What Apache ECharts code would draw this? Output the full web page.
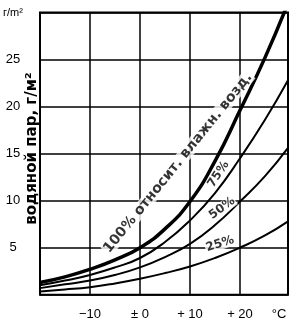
<!DOCTYPE html>
<html>
<head>
<meta charset="utf-8">
<script src="https://cdn.jsdelivr.net/npm/echarts@6/dist/echarts.min.js"></script>
<style>
  html, body { margin: 0; padding: 0; background: #fff; }
  #main { width: 300px; height: 324px; }
</style>
</head>
<body>
<div id="main"></div>
<script>
// температура, °C
var temps = [-20, -15, -10, -5, 0, 5, 10, 15, 20, 25, 29.6];
// водяной пар при разной относительной влажности
var rh100 = [1.3, 1.9, 2.7, 3.7, 5.0, 7.0, 9.9, 14.2, 19.6, 25.2, 31.0];
var rh75 = [1.0, 1.5, 2.1, 2.9, 3.9, 5.6, 7.9, 10.8, 14.5, 18.6, 22.8];
var rh50 = [0.7, 1.1, 1.5, 2.1, 2.9, 4.0, 5.4, 7.4, 9.9, 12.6, 15.6];
var rh25 = [0.35, 0.55, 0.8, 1.2, 1.7, 2.3, 3.0, 3.9, 5.0, 6.3, 7.8];

var xTickValues = [-20, -10, 0, 10, 20, 29.6];
var xTickLabels = ['', '\u221210', '\u00b1 0', '+ 10', '+ 20', '{u|\u00b0C}'];
var yTickValues = [0, 5, 10, 15, 20, 25, 30];
var yTickLabels = ['', '5', '10', '15', '20', '25', '{u|г/m²}'];

var curveNames = ['100% относит. влажн. возд.', '75%', '50%', '25%'];

var font = 'Liberation Sans';
var boldFont = 'DejaVu Sans';

function pairs(ys) {
    var out = [];
    for (var i = 0; i < temps.length; i++) {
        out.push([temps[i], ys[i]]);
    }
    return out;
}

function tickText(values, labels) {
    return function (v) {
        for (var i = 0; i < values.length; i++) {
            if (Math.abs(values[i] - v) < 0.01) {
                return labels[i];
            }
        }
        return '';
    };
}

function curve(ys, width) {
    return {
        type: 'line',
        data: pairs(ys),
        smooth: 0.5,
        symbol: 'none',
        clip: true,
        lineStyle: { color: '#000', width: width },
        z: 3
    };
}

// подпись вдоль кривой, bg - закрывать ли линии сетки под текстом
function curveLabel(text, x, y, rot, size, bg) {
    return {
        type: 'scatter',
        symbolSize: 0,
        data: [[x, y]],
        z: 5,
        silent: true,
        label: {
            show: true,
            position: 'inside',
            formatter: text,
            rotate: rot,
            color: '#000',
            fontFamily: boldFont,
            fontWeight: 'bold',
            fontSize: size,
            backgroundColor: bg ? '#fff' : 'transparent',
            padding: [0, 1]
        }
    };
}

var myChart = echarts.init(document.getElementById('main'), null, { renderer: 'canvas' });

var option = {
    animation: false,
    backgroundColor: '#fff',
    grid: {
        left: 40,
        right: 12,
        top: 12.5,
        bottom: 29.3,
        show: true,
        borderColor: '#000',
        borderWidth: 2
    },
    xAxis: {
        type: 'value',
        min: -20,
        max: 29.6,
        interval: 10,
        axisLine: { show: false },
        axisTick: { show: false },
        splitLine: { show: true, lineStyle: { color: '#000', width: 1.5 } },
        axisLabel: {
            margin: 13,
            color: '#000',
            fontFamily: font,
            fontSize: 13,
            showMinLabel: true,
            showMaxLabel: true,
            formatter: tickText(xTickValues, xTickLabels),
            rich: {
                u: { fontFamily: font, fontSize: 13, color: '#000', padding: [0, 18, 0, 0] }
            }
        }
    },
    yAxis: {
        type: 'value',
        min: 0,
        max: 30,
        interval: 5,
        name: 'водяной пар, г/м²',
        nameLocation: 'middle',
        nameGap: 0,
        nameRotate: 90,
        nameMoveOverlap: false,
        nameTextStyle: {
            color: '#000',
            fontFamily: boldFont,
            fontWeight: 'bold',
            fontSize: 15,
            padding: [0, 0, 0, 10]
        },
        axisLine: { show: false },
        axisTick: { show: false },
        splitLine: { show: true, lineStyle: { color: '#000', width: 1.5 } },
        axisLabel: {
            margin: 27,
            align: 'center',
            color: '#000',
            fontFamily: font,
            fontSize: 13,
            formatter: tickText(yTickValues, yTickLabels),
            rich: {
                u: { fontFamily: font, fontSize: 11, color: '#000' }
            }
        }
    },
    series: [
        curve(rh100, 3.5),
        curve(rh75, 2),
        curve(rh50, 2),
        curve(rh25, 2),
        curveLabel(curveNames[0], 7.6, 14.0, 51, 14, true),
        curveLabel(curveNames[1], 15.7, 12.8, 57, 12, false),
        curveLabel(curveNames[2], 16.4, 9.2, 36, 12, true),
        curveLabel(curveNames[3], 16.0, 5.4, 18, 12, true)
    ]
};

myChart.setOption(option);
</script>
</body>
</html>
